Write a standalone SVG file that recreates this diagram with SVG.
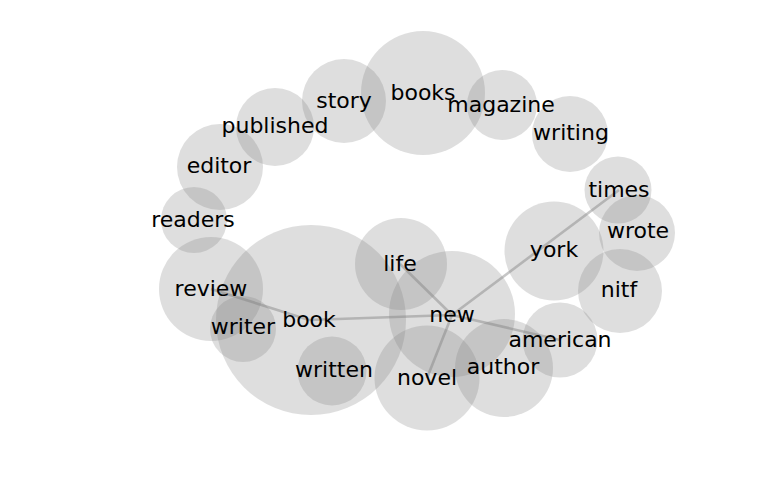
<svg xmlns="http://www.w3.org/2000/svg" width="768" height="500" viewBox="0 0 768 500">
<style>
.n circle{fill:#808080;fill-opacity:0.26;stroke:none}
#labels text{font-family:"DejaVu Sans",sans-serif;font-size:22px;fill:#000;text-anchor:middle}
#edges line{stroke:#808080;stroke-opacity:0.45;stroke-width:2.6;stroke-linecap:butt}
</style>
<rect width="768" height="500" fill="#fff"/>
<g id="nodes">
<g id="node-books" class="n"><circle cx="423" cy="93" r="62"/></g>
<g id="node-story" class="n"><circle cx="344" cy="101" r="42"/></g>
<g id="node-published" class="n"><circle cx="275" cy="127" r="39"/></g>
<g id="node-editor" class="n"><circle cx="220" cy="167" r="43"/></g>
<g id="node-readers" class="n"><circle cx="194" cy="220" r="33"/></g>
<g id="node-magazine" class="n"><circle cx="502" cy="105" r="35"/></g>
<g id="node-writing" class="n"><circle cx="570" cy="134" r="38"/></g>
<g id="node-times" class="n"><circle cx="618" cy="190" r="33.5"/></g>
<g id="node-wrote" class="n"><circle cx="637" cy="233" r="38"/></g>
<g id="node-york" class="n"><circle cx="554" cy="251" r="49.5"/></g>
<g id="node-nitf" class="n"><circle cx="620" cy="291" r="42"/></g>
<g id="node-american" class="n"><circle cx="560" cy="340" r="37.5"/></g>
<g id="node-author" class="n"><circle cx="504" cy="368" r="49"/></g>
<g id="node-novel" class="n"><circle cx="427" cy="378" r="52.5"/></g>
<g id="node-new" class="n"><circle cx="452" cy="314" r="63"/></g>
<g id="node-life" class="n"><circle cx="401" cy="264" r="46"/></g>
<g id="node-book" class="n"><circle cx="311" cy="320" r="95"/></g>
<g id="node-review" class="n"><circle cx="211" cy="289" r="52"/></g>
<g id="node-writer" class="n"><circle cx="243" cy="329" r="33"/></g>
<g id="node-written" class="n"><circle cx="332" cy="371" r="34.5"/></g>
</g>
<g id="edges">
<line x1="452" y1="315" x2="400" y2="264"/>
<line x1="452" y1="315" x2="619" y2="190"/>
<line x1="452" y1="315" x2="427" y2="378"/>
<line x1="452" y1="315" x2="560" y2="340"/>
<line x1="452" y1="315" x2="309" y2="320"/>
<line x1="309" y1="320" x2="211" y2="289"/>
</g>
<g id="labels">
<text id="label-books" x="423" y="100">books</text>
<text id="label-story" x="344" y="108">story</text>
<text id="label-published" x="275" y="133">published</text>
<text id="label-editor" x="219" y="173">editor</text>
<text id="label-readers" x="193" y="227">readers</text>
<text id="label-magazine" x="501" y="112">magazine</text>
<text id="label-writing" x="571" y="140">writing</text>
<text id="label-times" x="619" y="197">times</text>
<text id="label-wrote" x="638" y="238">wrote</text>
<text id="label-york" x="554" y="257">york</text>
<text id="label-nitf" x="619" y="297">nitf</text>
<text id="label-american" x="560" y="347">american</text>
<text id="label-author" x="503" y="374">author</text>
<text id="label-novel" x="427" y="385">novel</text>
<text id="label-new" x="452" y="322">new</text>
<text id="label-life" x="400" y="271">life</text>
<text id="label-book" x="309" y="327">book</text>
<text id="label-review" x="211" y="296">review</text>
<text id="label-writer" x="243" y="334">writer</text>
<text id="label-written" x="334" y="377">written</text>
</g>
</svg>
